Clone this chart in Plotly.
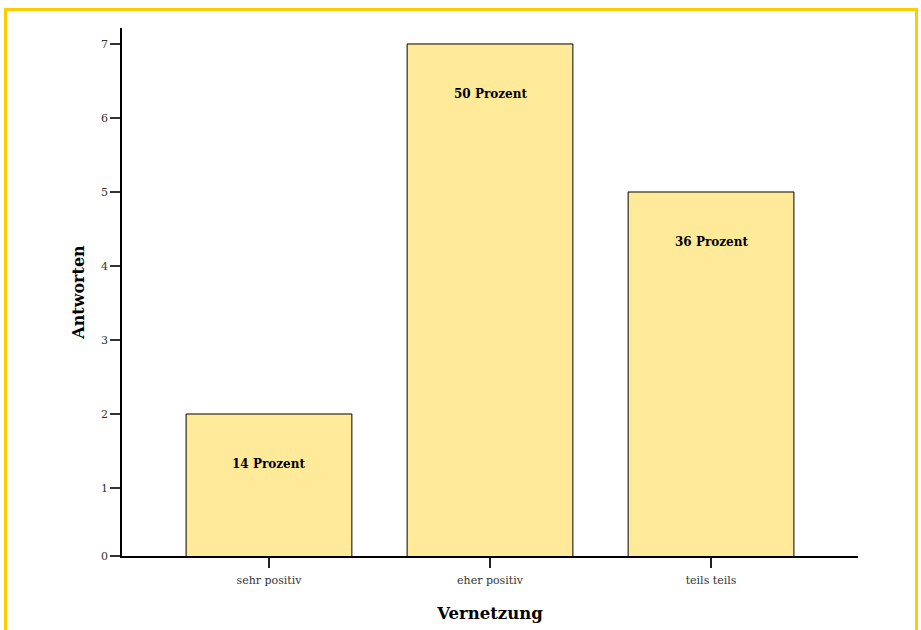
import plotly.graph_objects as go

categories = ["sehr positiv", "eher positiv", "teils teils"]
counts = [2, 7, 5]
percent_labels = ["14 Prozent", "50 Prozent", "36 Prozent"]
y_ticks = [1, 2, 3, 4, 5, 6, 7]

FONT = "DejaVu Serif"
W, H = 921, 630
L, R, T, B = 122, 63, 28, 74
pw = W - L - R
ph = H - T - B
Y_MIN, Y_MAX = 0.081, 7.216

fig = go.Figure()
fig.add_trace(go.Bar(
    x=list(range(len(categories))), y=counts,
    width=0.75,
    marker=dict(color="#FEEA99", line=dict(color="#000000", width=1)),
    hoverinfo="skip",
))

for i, (v, lab) in enumerate(zip(counts, percent_labels)):
    fig.add_annotation(x=i, y=v, text="<b>%s</b>" % lab, showarrow=False,
                       yshift=-50, font=dict(family=FONT, size=12, color="#000"))

def px_to_paper_x(px):
    return (px - L) / pw

def px_to_paper_y(py):
    return (H - B - py) / ph

fig.add_shape(type="rect", xref="paper", yref="paper",
              x0=px_to_paper_x(5.5), x1=px_to_paper_x(916.5),
              y0=px_to_paper_y(660), y1=px_to_paper_y(9.5),
              line=dict(color="#FFCC00", width=3), fillcolor="rgba(0,0,0,0)", layer="below")

fig.update_layout(
    width=W, height=H,
    margin=dict(l=L, r=R, t=T, b=B, autoexpand=False),
    plot_bgcolor="white", paper_bgcolor="white",
    showlegend=False,
    font=dict(family=FONT, size=11, color="#333"),
    xaxis=dict(
        range=[-0.665, 2.665], automargin=False,
        tickmode="array", tickvals=list(range(len(categories))), ticktext=categories,
        ticks="outside", ticklen=10, tickwidth=2, tickcolor="#222",
        ticklabelstandoff=3,
        showline=True, linecolor="#000", linewidth=1.5,
        showgrid=False, zeroline=False,
        tickfont=dict(family=FONT, size=11, color="#333"),
        title=dict(text="<b>Vernetzung</b>", font=dict(family=FONT, size=16.5, color="#000"), standoff=21),
    ),
    yaxis=dict(
        range=[Y_MIN, Y_MAX], automargin=False,
        tickmode="array", tickvals=[Y_MIN] + y_ticks, ticktext=["0"] + [str(t) for t in y_ticks],
        ticks="outside", ticklen=10, tickwidth=1.5, tickcolor="#333",
        showline=True, linecolor="#000", linewidth=1.5,
        showgrid=False, zeroline=False,
        tickfont=dict(family=FONT, size=11, color="#333"),
        title=dict(text="<b>Antworten</b>", font=dict(family=FONT, size=16, color="#000"), standoff=12),
    ),
)

fig.write_html("out.html", config={"displayModeBar": False},
               post_script="document.body.style.margin='0';document.body.style.overflow='hidden';")
